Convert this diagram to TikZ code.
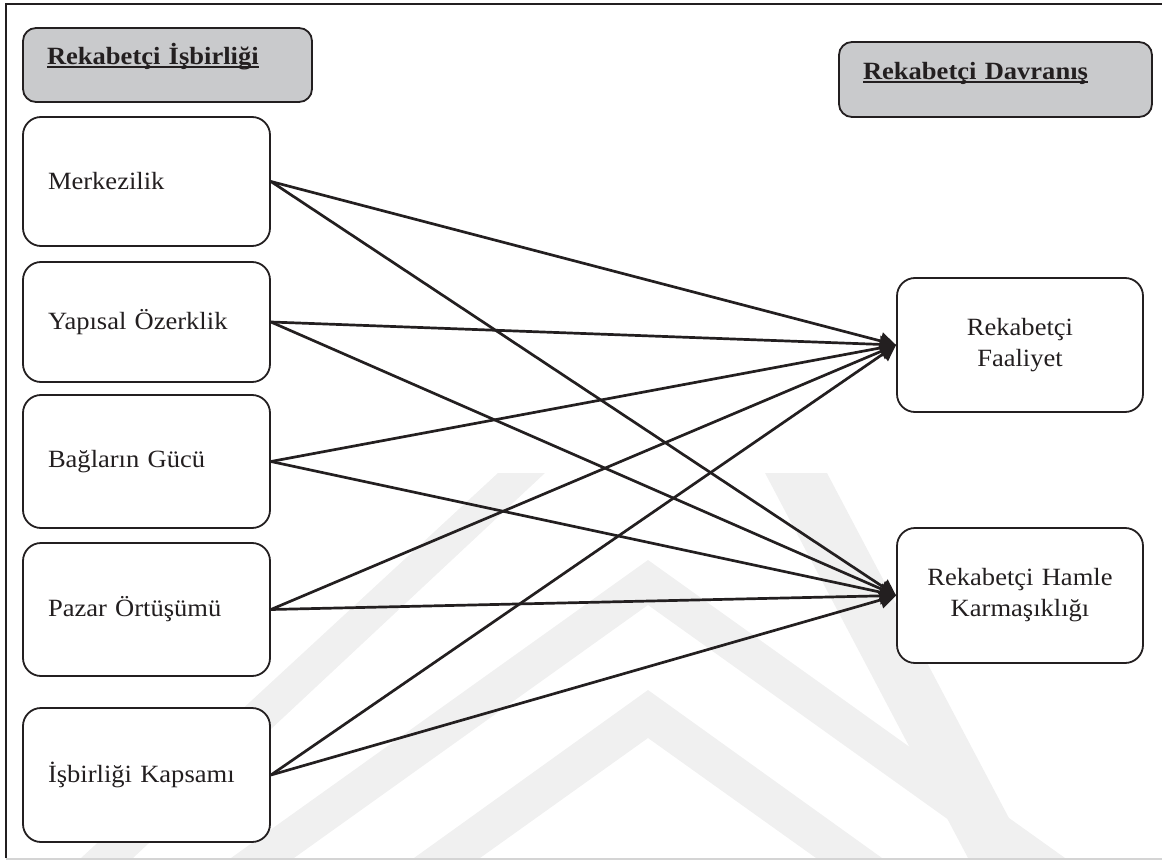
\documentclass[tikz,border=0pt]{standalone}
\usepackage{fontspec}
\setmainfont{Liberation Serif}[FakeStretch=1.07]
\usetikzlibrary{arrows.meta}

\definecolor{ink}{HTML}{231F20}
\definecolor{headfill}{HTML}{C9CACC}
\definecolor{wmark}{HTML}{F0F0F0}
\definecolor{framelow}{HTML}{D4D4D4}

% underline drawn as a rule just below the baseline
\newcommand{\ulhead}[1]{\setbox0\hbox{#1}\rlap{\rule[-3.2pt]{\wd0}{1.9pt}}\box0}

\tikzset{
  every node/.style={font=\fontsize{24.8pt}{31pt}\selectfont, text=ink},
  factor/.style={draw=ink, line width=1.8pt, fill=white, rounded corners=18pt,
    minimum width=247pt, text width=197pt, align=left, inner xsep=25pt, inner ysep=0pt},
  outcome/.style={draw=ink, line width=1.8pt, fill=white, rounded corners=18pt,
    minimum width=246pt, text width=220pt, align=center, inner xsep=13pt, inner ysep=0pt},
  header/.style={draw=ink, line width=1.8pt, fill=headfill, rounded corners=13pt,
    align=left, inner xsep=24pt, inner ysep=0pt, text height=12pt, text depth=12pt,
    font=\fontsize{24.8pt}{31pt}\selectfont\bfseries},
  link/.style={draw=ink, line width=2.7pt, -{Triangle[length=16pt,width=17pt]}},
  band/.style={fill=wmark, draw=none}
}

\begin{document}
\begin{tikzpicture}[x=1pt, y=-1pt]
\useasboundingbox (0,0) rectangle (1162,861);

% faint background emblem
\fill[band] (81,858) -- (133,858) -- (545,473) -- (498,473) -- cycle;
\fill[band] (765,473) -- (827,473) -- (1030,858) -- (968,858) -- cycle;
\fill[band] (231,858) -- (648,560) -- (1065,858) -- (1002,858) -- (648,605) -- (294,858) -- cycle;
\fill[band] (414,858) -- (648,690) -- (882,858) -- (816,858) -- (648,738) -- (480,858) -- cycle;

% page frame
\draw[ink, line width=2pt] (6,858) -- (6,4) -- (1162,4);
\draw[framelow, line width=1.5pt] (6,859) -- (1162,859);

% group headers
\node[header, minimum width=289pt, minimum height=74pt, text width=241pt]
  (headL) at (167.5,65) {\ulhead{Rekabetçi İşbirliği}};
\node[header, minimum width=313pt, minimum height=75pt, text width=265pt]
  (headR) at (995.5,79.5) {\ulhead{Rekabetçi Davranış}};

% cooperation factors
\node[factor, minimum height=129pt] (merk) at (146.5,181.5) {Merkezilik};
\node[factor, minimum height=120pt] (yapi) at (146.5,322)   {Yapısal Özerklik};
\node[factor, minimum height=133pt] (bag)  at (146.5,461.5) {Bağların Gücü};
\node[factor, minimum height=133pt] (paz)  at (146.5,609.5) {Pazar Örtüşümü};
\node[factor, minimum height=134pt] (isb)  at (146.5,775)   {İşbirliği Kapsamı};

% competitive behaviour outcomes
\node[outcome, minimum height=134pt] (faal)  at (1020,345)   {Rekabetçi\\Faaliyet};
\node[outcome, minimum height=135pt] (hamle) at (1020,595.5) {Rekabetçi Hamle\\Karmaşıklığı};

% every factor points to both outcomes
\foreach \src in {merk,yapi,bag,paz,isb}{
  \draw[link] (\src.east) -- (faal.west);
  \draw[link] (\src.east) -- (hamle.west);
}
\end{tikzpicture}
\end{document}
